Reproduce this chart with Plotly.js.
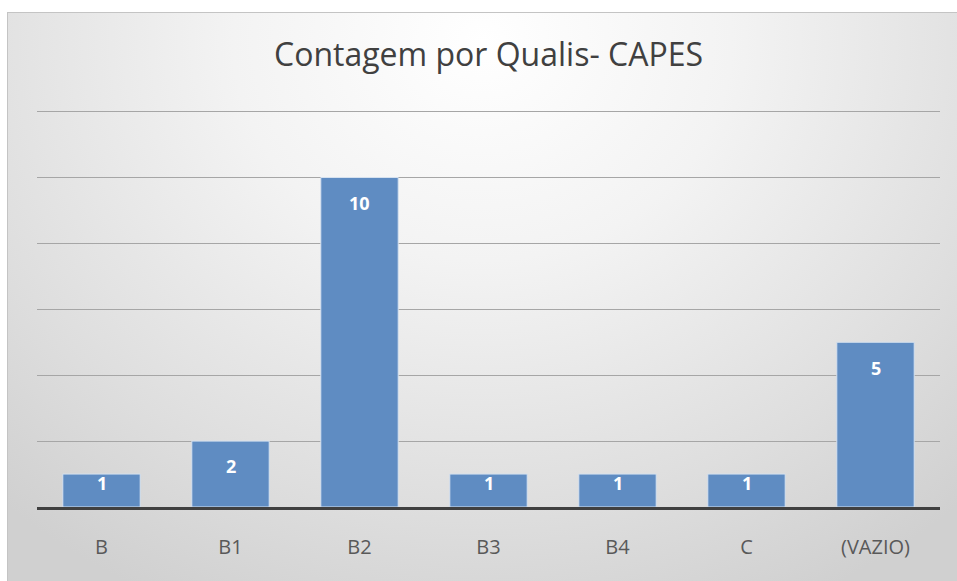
<!DOCTYPE html>
<html>
<head>
<meta charset="utf-8">
<script src="https://cdn.plot.ly/plotly-3.0.1.min.js"></script>
<style>
  html, body { margin: 0; padding: 0; background: #ffffff; }
  #wrap { position: relative; width: 957px; height: 581px; overflow: hidden; }
  #bg { position: absolute; left: 7px; top: 12px; right: 0; bottom: 0;
        border-left: 1px solid #c4c4c4; border-top: 1px solid #c4c4c4;
        background: radial-gradient(ellipse 75% 110% at 50% 5%, #ffffff 0%, #f3f3f3 35%, #dedede 75%, #d0d0d0 100%); }
  #chart { position: absolute; left: 0; top: 0; width: 957px; height: 581px; }
</style>
</head>
<body>
<div id="wrap">
  <div id="bg"></div>
  <div id="chart"></div>
</div>
<script>
const categories = ["B", "B1", "B2", "B3", "B4", "C", "(VAZIO)"];
const counts = [1, 2, 10, 1, 1, 1, 5];
const chartTitle = "Contagem por Qualis- CAPES";

const trace = {
  type: "bar",
  x: categories,
  y: counts,
  marker: { color: "#5f8cc2", line: { color: "#d6e2f0", width: 1 } },
  hoverinfo: "x+y"
};

// value labels placed just inside the top of each bar
const labels = categories.map((c, i) => ({
  x: c,
  y: counts[i],
  xref: "x",
  yref: "y",
  text: "<b>" + counts[i] + "</b>",
  showarrow: false,
  yanchor: "middle",
  yshift: -Math.min(26, counts[i] * 33 / 2 - 8),
  font: { family: "Open Sans, sans-serif", size: 18, color: "#ffffff" }
}));

const layout = {
  width: 957,
  height: 581,
  margin: { l: 37, r: 17, t: 105, b: 74 },
  paper_bgcolor: "rgba(0,0,0,0)",
  plot_bgcolor: "rgba(0,0,0,0)",
  showlegend: false,
  bargap: 0.4,
  annotations: labels,
  title: {
    text: chartTitle,
    font: { family: "Open Sans, sans-serif", size: 32, color: "#404040" },
    x: 0.5, xanchor: "center",
    xref: "paper",
    y: 1 - 55 / 581, yref: "container", yanchor: "middle"
  },
  xaxis: {
    type: "category",
    showgrid: false,
    showline: true,
    linecolor: "#404040",
    linewidth: 3,
    ticks: "",
    ticklabelstandoff: 20,
    tickfont: { family: "Open Sans, sans-serif", size: 20, color: "#595959" },
    zeroline: false
  },
  yaxis: {
    range: [0, 12.2],
    tickvals: [0, 2, 4, 6, 8, 10, 12],
    showgrid: true,
    gridcolor: "#a6a6a6",
    gridwidth: 1,
    showticklabels: false,
    zeroline: false,
    showline: false,
    ticks: ""
  }
};

Plotly.newPlot("chart", [trace], layout, { displayModeBar: false, staticPlot: true });
</script>
</body>
</html>
